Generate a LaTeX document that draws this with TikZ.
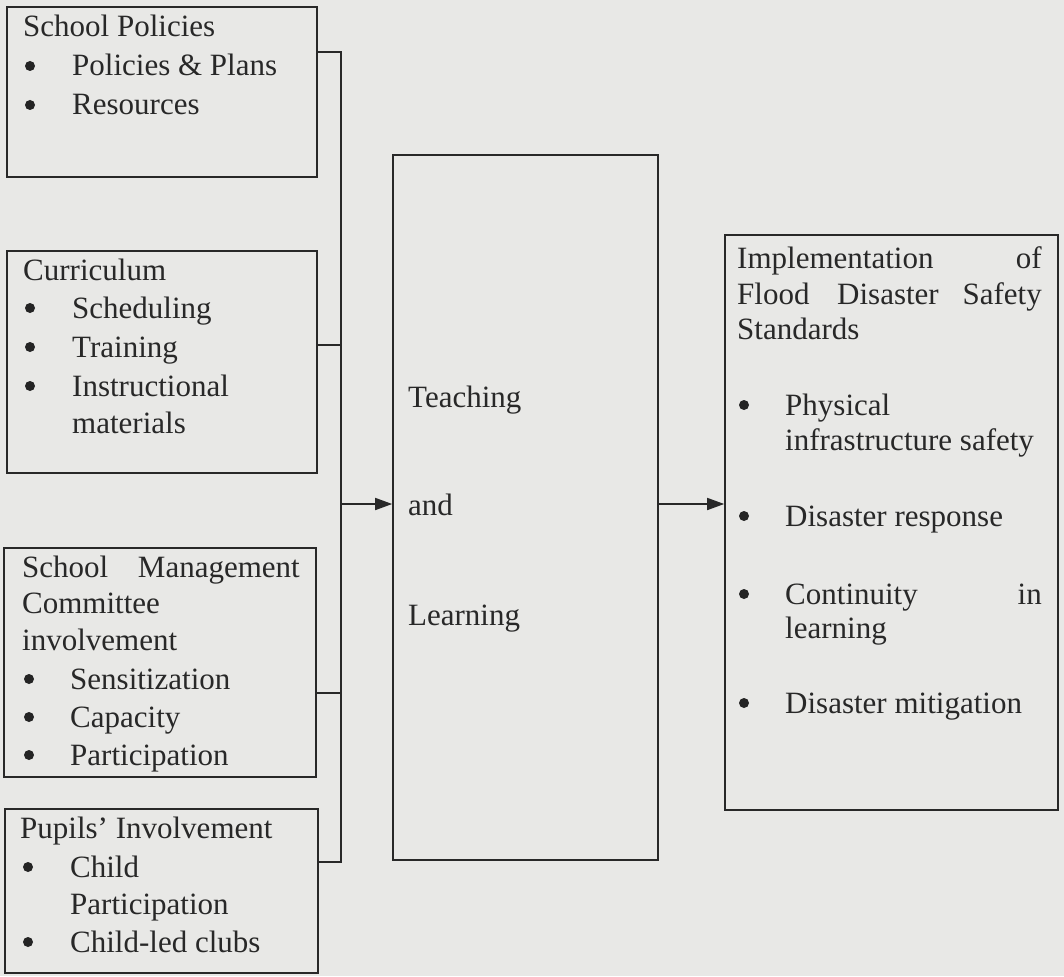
\documentclass[tikz,border=0pt]{standalone}
\usepackage{fontspec}
\setmainfont{Liberation Serif}
\usetikzlibrary{arrows.meta,calc}
\definecolor{bg}{RGB}{232,232,230}
\definecolor{ink}{RGB}{40,40,40}
\begin{document}
\begin{tikzpicture}[x=1pt,y=-1pt,
  boxstyle/.style={draw=ink,line width=1.6pt,inner sep=0pt},
  conn/.style={draw=ink,line width=1.6pt},
  arr/.style={conn,-{Triangle[length=17pt,width=12pt]}},
  txt/.style={anchor=base west,inner sep=0pt,text=ink,font=\fontsize{31}{39}\selectfont},
  txte/.style={txt,anchor=base east},
  bul/.style={circle,fill=ink!90!black,inner sep=0pt,minimum size=10pt,yshift=10pt}]
\fill[bg] (0,0) rectangle (1064,976);
\useasboundingbox (0,0) rectangle (1064,976);
% boxes
\node[boxstyle,minimum width=310pt,minimum height=170pt] (b1) at (162,92) {};
\node[boxstyle,minimum width=310pt,minimum height=222pt] (b2) at (162,362) {};
\node[boxstyle,minimum width=312pt,minimum height=229pt] (b3) at (160,662.5) {};
\node[boxstyle,minimum width=313pt,minimum height=164pt] (b4) at (161.5,891) {};
\node[boxstyle,minimum width=265pt,minimum height=705pt] (tl) at (525.5,507.5) {};
\node[boxstyle,minimum width=333pt,minimum height=575pt] (im) at (891.5,522.5) {};
% junctions
\coordinate (j1) at (341,52);
\coordinate (j2) at (341,345);
\coordinate (j3) at (341,693);
\coordinate (j4) at (341,862);
\coordinate (ja) at (341,504);
\draw[conn] (b1.east |- j1) -- (j1) -- (j4) -- (b4.east |- j4);
\draw[conn] (b2.east |- j2) -- (j2);
\draw[conn] (b3.east |- j3) -- (j3);
\draw[arr] (ja) -- (tl.west |- ja);
\draw[arr] (tl.east |- ja) -- (im.west |- ja);
% box 1 text
\node[txt] (a1) at (23,37) {School Policies};
\node[bul] (a2b) at (30,76) {};
\node[txt] (a2) at (72,76) {Policies \& Plans};
\node[bul] (a3b) at (30,115) {};
\node[txt] (a3) at (72,115) {Resources};
% box 2 text
\node[txt] (c1) at (23,280) {Curriculum};
\node[bul] (c2b) at (30,318) {};
\node[txt] (c2) at (72,318) {Scheduling};
\node[bul] (c3b) at (30,357) {};
\node[txt] (c3) at (72,357) {Training};
\node[bul] (c4b) at (30,396) {};
\node[txt] (c4) at (72,396) {Instructional};
\node[txt] (c5) at (72,433) {materials};
% box 3 text
\node[txt] (d1) at (22,577) {School};
\node[txte] (d1b) at (300,577) {Management};
\node[txt] (d2) at (22,613) {Committee};
\node[txt] (d3) at (22,650) {involvement};
\node[bul] (d4b) at (29,689) {};
\node[txt] (d4) at (70,689) {Sensitization};
\node[bul] (d5b) at (29,727) {};
\node[txt] (d5) at (70,727) {Capacity};
\node[bul] (d6b) at (29,765) {};
\node[txt] (d6) at (70,765) {Participation};
% box 4 text
\node[txt] (e1) at (20,838) {Pupils’ Involvement};
\node[bul] (e2b) at (28,877) {};
\node[txt] (e2) at (70,877) {Child};
\node[txt] (e3) at (70,914) {Participation};
\node[bul] (e4b) at (28,952) {};
\node[txt] (e4) at (70,952) {Child-led clubs};
% teaching box text
\node[txt] (f1) at (408,407) {Teaching};
\node[txt] (f2) at (408,515) {and};
\node[txt] (f3) at (408,625) {Learning};
% implementation box text
\node[txt] (g1) at (737,268) {Implementation};
\node[txte] (g1b) at (1042,268) {of};
\node[txt] (g2) at (737,304) {Flood};
\node[txt] (g2b) at (837,304) {Disaster};
\node[txte] (g2c) at (1042,304) {Safety};
\node[txt] (g3) at (737,339) {Standards};
\node[bul] (g4b) at (744,415) {};
\node[txt] (g4) at (785,415) {Physical};
\node[txt] (g5) at (785,450) {infrastructure safety};
\node[bul] (g6b) at (744,526) {};
\node[txt] (g6) at (785,526) {Disaster response};
\node[bul] (g7b) at (744,604) {};
\node[txt] (g7) at (785,604) {Continuity};
\node[txte] (g7c) at (1042,604) {in};
\node[txt] (g8) at (785,638) {learning};
\node[bul] (g9b) at (744,713) {};
\node[txt] (g9) at (785,713) {Disaster mitigation};
\end{tikzpicture}
\end{document}
